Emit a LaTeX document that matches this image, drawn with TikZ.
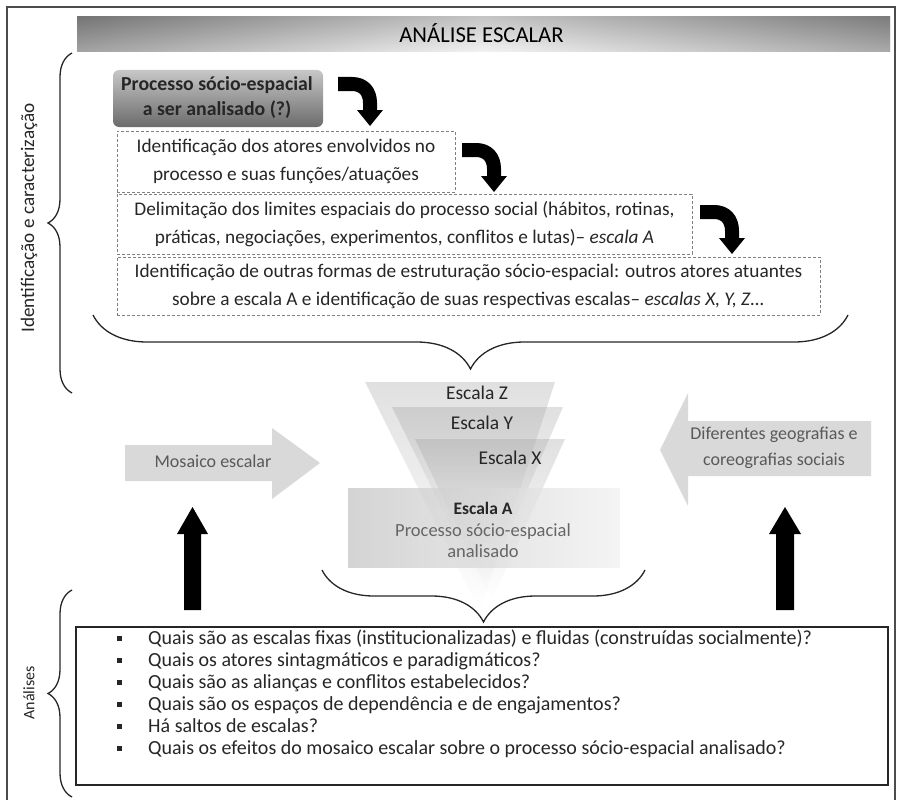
\documentclass[tikz,border=0pt]{standalone}
\usepackage{fontspec}
\setmainfont{Carlito}
\usetikzlibrary{decorations.pathreplacing}
% filled square used as list bullet
\newcommand\qbul{\makebox[35pt][l]{\hspace{4pt}\rule[3.5pt]{5pt}{5pt}}}
% thick black bent arrow, #1,#2 = top-left corner
\newcommand\bentarrow[2]{%
  \draw[line width=14pt, black] (#1,#2+7) -- (#1+14,#2+7)
     .. controls (#1+25,#2+7) and (#1+32,#2+14) .. (#1+32,#2+26) -- (#1+32,#2+34);
  \fill[black] (#1+19,#2+33) -- (#1+45,#2+33) -- (#1+32,#2+49) -- cycle;}
\begin{document}
\begin{tikzpicture}[x=1pt,y=-1pt,
  txt/.style={font=\fontsize{19.3}{28}\selectfont, text=black!85, align=center, inner sep=0pt},
  dashbox/.style={draw=black!50, dash pattern=on 3pt off 2pt, line width=0.9pt},
  brc/.style={decorate, decoration={brace, amplitude=#1}, line width=1.3pt, draw=black!85},
  grayarrow/.style={fill=black!15},
  blackarrow/.style={fill=black},
  funnel/.style={top color=black!40, bottom color=white, opacity=0.3}
]
\useasboundingbox (0,0) rectangle (897,800);

% outer frame
\draw[black!70, line width=1.5pt] (7,805) -- (7,7) -- (895,7) -- (895,805);

% title bar
\shade[left color=black!65, right color=black!60, middle color=black!8] (77,17) rectangle (890,52);
\shade[top color=black!40, bottom color=white, opacity=0.45] (77,17) rectangle (890,52);
\node[txt, font=\fontsize{22.7}{24}\selectfont, text=black] (title) at (481.5,33) {ANÁLISE ESCALAR};

% identification steps
\shade[rounded corners=6pt, top color=black!22, bottom color=black!58] (113,70) rectangle (323,127);
\node[txt, font=\bfseries\fontsize{19.8}{25}\selectfont] (b1) at (217,98) {Processo sócio-espacial\\a ser analisado (?)};

\node[dashbox, txt, minimum width=338pt, minimum height=61pt] (b2) at (286,161.5)
  {Identificação dos atores envolvidos no\\processo e suas funções/atuações};
\node[dashbox, txt, minimum width=575pt, minimum height=60pt] (b3) at (404.5,224)
  {Delimitação dos limites espaciais do processo social (hábitos, rotinas,\\práticas, negociações, experimentos, conflitos e lutas)– \textit{escala A}};
\node[dashbox, txt, minimum width=703pt, minimum height=58pt] (b4) at (468.5,286)
  {Identificação de outras formas de estruturação sócio-espacial: outros atores atuantes\\sobre a escala A e identificação de suas respectivas escalas– \textit{escalas X, Y, Z...}};

\bentarrow{338}{77}
\bentarrow{462}{143}
\bentarrow{700}{205}

% braces
\draw[brc=24] (72,393) -- (72,53);
\draw[brc=54] (848,315) -- (93,315);
\draw[brc=52] (645,570) -- (322,570);
\draw[brc=24] (72,797) -- (72,590);

\node[txt, rotate=90, font=\fontsize{19.2}{22}\selectfont] (lid) at (29,218) {Identificação e caracterização};
\node[txt, rotate=90, font=\fontsize{16}{18}\selectfont] (lan) at (29,693) {Análises};

% scale funnel
\shade[funnel] (365,382) -- (555,382) -- (480,612) -- cycle;
\shade[funnel] (392,407) -- (563,407) -- (483,592) -- cycle;
\shade[funnel] (415,439) -- (565,439) -- (492,600) -- cycle;
\shade[left color=black!24, right color=black!6, opacity=0.7] (348,488) rectangle (620,567);

\node[txt, font=\fontsize{19.5}{22}\selectfont] (lz) at (477,393) {Escala Z};
\node[txt, font=\fontsize{19.5}{22}\selectfont] (ly) at (482,423) {Escala Y};
\node[txt, font=\fontsize{19.5}{22}\selectfont] (lx) at (510,458) {Escala X};
\node[txt, font=\bfseries\fontsize{17.5}{20}\selectfont] (la) at (483,508) {Escala A};
\node[txt, text=black!60, font=\fontsize{18.5}{21}\selectfont] (lp) at (483,541) {Processo sócio-espacial\\analisado};

% side block arrows
\fill[grayarrow] (125,445) -- (272,445) -- (272,428) -- (320,463) -- (272,499) -- (272,481) -- (125,481) -- cycle;
\node[txt, text=black!65, font=\fontsize{18}{20}\selectfont] (mos) at (213,461) {Mosaico escalar};
\fill[grayarrow] (871,421) -- (688,421) -- (688,393) -- (660,450) -- (688,506) -- (688,476) -- (871,476) -- cycle;
\node[txt, text=black!65, font=\fontsize{18}{26}\selectfont] (geo) at (774,448) {Diferentes geografias e\\coreografias sociais};

% upward black arrows
\fill[blackarrow] (184,610) -- (184,534) -- (177,534) -- (192.5,507) -- (208,534) -- (201,534) -- (201,610) -- cycle;
\fill[blackarrow] (776,610) -- (776,534) -- (769,534) -- (785,507) -- (801,534) -- (794,534) -- (794,610) -- cycle;

% questions
\node[draw=black!85, line width=1.5pt, minimum width=812pt, minimum height=158pt] (qbox) at (482,706) {};
\node[txt, anchor=north west, align=left, font=\fontsize{20}{22}\selectfont] (qs) at (113,629.5)
  {\qbul Quais são as escalas fixas (institucionalizadas) e fluidas (construídas socialmente)?\\
   \qbul Quais os atores sintagmáticos e paradigmáticos?\\
   \qbul Quais são as alianças e conflitos estabelecidos?\\
   \qbul Quais são os espaços de dependência e de engajamentos?\\
   \qbul Há saltos de escalas?\\
   \qbul Quais os efeitos do mosaico escalar sobre o processo sócio-espacial analisado?};
\end{tikzpicture}
\end{document}
